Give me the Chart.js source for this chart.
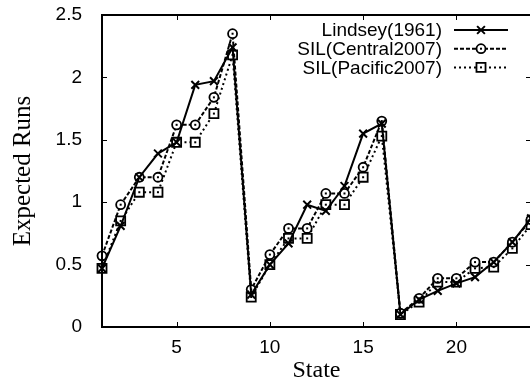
<!DOCTYPE html>
<html>
<head>
<meta charset="utf-8">
<script src="https://cdn.jsdelivr.net/npm/chart.js@4/dist/chart.umd.min.js"></script>
<style>
    html, body { margin: 0; padding: 0; background: #fff; overflow: hidden; }
    #chart { display: block; }
</style>
</head>
<body>
<canvas id="chart" width="540" height="385"></canvas>
<script>
// данные
const states = [1, 2, 3, 4, 5, 6, 7, 8, 9, 10, 11, 12, 13, 14, 15, 16, 17, 18, 19, 20, 21, 22, 23, 24];
const lindsey = [0.47, 0.81, 1.20, 1.39, 1.48, 1.94, 1.97, 2.24, 0.26, 0.50, 0.67, 0.98, 0.93, 1.13, 1.55, 1.63, 0.10, 0.22, 0.29, 0.35, 0.40, 0.52, 0.68, 0.87];
const central = [0.57, 0.98, 1.20, 1.20, 1.62, 1.62, 1.84, 2.35, 0.30, 0.58, 0.79, 0.79, 1.07, 1.07, 1.28, 1.65, 0.11, 0.23, 0.39, 0.39, 0.52, 0.52, 0.68, 0.86];
const pacific = [0.47, 0.85, 1.08, 1.08, 1.48, 1.48, 1.71, 2.18, 0.24, 0.50, 0.71, 0.71, 0.98, 0.98, 1.20, 1.53, 0.10, 0.20, 0.36, 0.36, 0.47, 0.48, 0.63, 0.82];
const seriesNames = ['Lindsey(1961)', 'SIL(Central2007)', 'SIL(Pacific2007)'];
const xTicks = [5, 10, 15, 20];

const sansFont = '"Liberation Sans", Arial, sans-serif';
const serifFont = '"Liberation Serif", "Times New Roman", serif';

function toPoints(values) {
    return states.map((s, i) => ({x: s, y: values[i]}));
}

// рамка и засечки внутрь, как в gnuplot
const framePlugin = {
    id: 'gnuFrame',
    afterDraw(chart) {
        const ctx = chart.ctx;
        const xs = chart.scales.x;
        const ys = chart.scales.y;
        const L = Math.round(xs.getPixelForValue(1));
        const R = Math.round(xs.getPixelForValue(24));
        const T = Math.round(ys.getPixelForValue(2.5));
        const B = Math.round(ys.getPixelForValue(0));
        ctx.save();
        ctx.fillStyle = '#000';
        ctx.fillRect(L - 1, T - 1, R - L + 2, 2);
        ctx.fillRect(L - 1, B - 1, R - L + 2, 2);
        ctx.fillRect(L - 1, T - 1, 2, B - T + 2);
        ctx.fillRect(R - 1, T - 1, 2, B - T + 2);
        xTicks.forEach(v => {
            const px = Math.round(xs.getPixelForValue(v));
            ctx.fillRect(px, B - 5, 1, 5);
            ctx.fillRect(px, T, 1, 5);
        });
        ys.ticks.forEach(t => {
            const py = Math.round(ys.getPixelForValue(t.value));
            ctx.fillRect(L, py, 5, 1);
            ctx.fillRect(R - 5, py, 5, 1);
        });

        // точки в центре кружков и квадратов
        [1, 2].forEach(i => {
            chart.getDatasetMeta(i).data.forEach(p => {
                ctx.fillRect(p.x - 1, p.y - 1, 2, 2);
            });
        });

        // легенда
        ctx.font = '19px ' + sansFont;
        ctx.textAlign = 'right';
        ctx.textBaseline = 'middle';
        chart.data.datasets.forEach((ds, i) => {
            const y = 30 + i * 18.7;
            ctx.fillStyle = '#000';
            ctx.fillText(ds.label, 442, y + 1);
            ctx.strokeStyle = '#000';
            ctx.lineWidth = ds.borderWidth;
            ctx.setLineDash(ds.borderDash || []);
            ctx.beginPath();
            ctx.moveTo(454, y);
            ctx.lineTo(508, y);
            ctx.stroke();
            ctx.setLineDash([]);
            ctx.fillStyle = '#fff';
            ctx.lineWidth = ds.pointBorderWidth;
            Chart.helpers.drawPoint(ctx, {
                pointStyle: ds.pointStyle,
                radius: ds.pointRadius,
                rotation: 0,
                borderWidth: ds.pointBorderWidth
            }, 481, y);
            if (i > 0) {
                ctx.fillStyle = '#000';
                ctx.fillRect(480, y - 1, 2, 2);
            }
        });
        ctx.restore();
    }
};

new Chart(document.getElementById('chart'), {
    type: 'line',
    data: {
        datasets: [{
            label: seriesNames[0],
            data: toPoints(lindsey),
            borderColor: '#000',
            borderWidth: 2,
            pointStyle: 'crossRot',
            pointRadius: 5.5,
            pointBorderWidth: 2,
            pointBorderColor: '#000',
            pointBackgroundColor: '#fff',
            clip: false
        }, {
            label: seriesNames[1],
            data: toPoints(central),
            borderColor: '#000',
            borderWidth: 2,
            borderDash: [4, 2],
            pointStyle: 'circle',
            pointRadius: 4.5,
            pointBorderWidth: 1.8,
            pointBorderColor: '#000',
            pointBackgroundColor: '#fff',
            clip: false
        }, {
            label: seriesNames[2],
            data: toPoints(pacific),
            borderColor: '#000',
            borderWidth: 2,
            borderDash: [2, 3],
            pointStyle: 'rect',
            pointRadius: 6.4,
            pointBorderWidth: 1.8,
            pointBorderColor: '#000',
            pointBackgroundColor: '#fff',
            clip: false
        }]
    },
    options: {
        responsive: false,
        animation: false,
        layout: {
            padding: {top: 15, right: 9}
        },
        plugins: {
            legend: {display: false},
            tooltip: {enabled: false}
        },
        scales: {
            x: {
                type: 'linear',
                min: 1,
                max: 24,
                afterBuildTicks: (scale) => {
                    scale.ticks = xTicks.map(v => ({value: v}));
                },
                afterFit: (scale) => {
                    scale.height = 58;
                },
                grid: {display: false},
                border: {display: false},
                ticks: {
                    color: '#000',
                    padding: 1,
                    maxRotation: 0,
                    font: {family: sansFont, size: 19}
                },
                title: {
                    display: true,
                    text: 'State',
                    color: '#000',
                    padding: {top: 0, bottom: 0},
                    font: {family: serifFont, size: 24}
                }
            },
            y: {
                min: 0,
                max: 2.5,
                afterFit: (scale) => {
                    scale.width = 102;
                    // не даём подписям сдвигать область графика
                    scale.paddingTop = 0;
                    scale.paddingBottom = 0;
                },
                grid: {display: false},
                border: {display: false},
                ticks: {
                    stepSize: 0.5,
                    color: '#000',
                    padding: 12,
                    callback: (v) => String(v),
                    font: {family: sansFont, size: 19}
                },
                title: {
                    display: true,
                    text: 'Expected Runs',
                    color: '#000',
                    padding: {top: 8, bottom: 0},
                    font: {family: serifFont, size: 25}
                }
            }
        }
    },
    plugins: [framePlugin]
});
</script>
</body>
</html>
